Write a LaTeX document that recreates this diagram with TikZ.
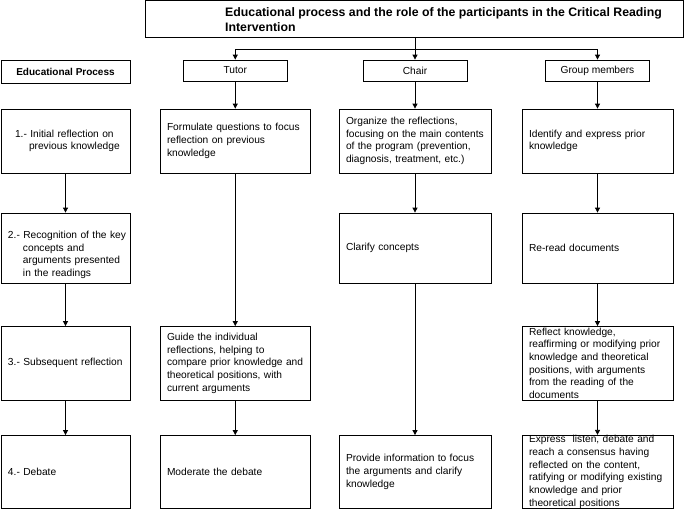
\documentclass[tikz,border=0pt]{standalone}
\usepackage{fontspec}
\setmainfont{Liberation Sans}
\usetikzlibrary{arrows.meta}
\begin{document}
\begin{tikzpicture}[x=1pt,y=-1pt,
  box/.style={draw, line width=0.8pt, inner xsep=7pt, inner ysep=0pt, align=left,
    font=\fontsize{10.2}{12.7}\selectfont, anchor=center},
  hdr/.style={draw, line width=0.8pt, inner sep=0pt, font=\fontsize{10.2}{12.7}\selectfont,
    minimum width=104pt, minimum height=21pt},
  arr/.style={line width=0.8pt, -{Triangle[length=5pt,width=5pt]}},
  c1/.style={minimum width=129pt, inner xsep=3pt, text width=123pt},
  c2/.style={minimum width=150.5pt, text width=136.5pt},
  c3/.style={minimum width=152pt, text width=138pt},
  c4/.style={minimum width=151pt, text width=137pt},
  r1/.style={minimum height=64pt},
  r2/.style={minimum height=70pt},
  r3/.style={minimum height=73.5pt},
  r4/.style={minimum height=72.5pt},
]
\useasboundingbox (0,0) rectangle (685,509);

% title
\node[draw, line width=0.8pt, minimum width=538pt, minimum height=36.5pt, inner sep=0pt] (title) at (414,18.75) {};
\node[anchor=west, inner sep=0pt, align=left, font=\fontsize{12.3}{14.8}\selectfont\bfseries] (titletext) at (225,20) {Educational process and the role of the participants in the Critical Reading\\Intervention};

% headers
\node[hdr, minimum width=129pt, minimum height=23pt, font=\fontsize{10}{12}\selectfont\bfseries] (edproc) at (65.5,71.5) {Educational Process};
\node[hdr] (tutor) at (235.25,70.5) {Tutor};
\node[hdr] (chair) at (415,70.5) {Chair};
\node[hdr] (group) at (597.5,70.5) {Group members};

% column 1
\node[box, c1, r1] (p1) at (65.5,141) {\hspace*{11pt}1.- Initial reflection on\\\hspace*{25pt}previous knowledge};
\node[box, c1, r2] (p2) at (65.5,248) {\rule{0pt}{21pt}\hspace*{4pt}2.- Recognition of the key\\\hspace*{19pt}concepts and\\\hspace*{19pt}arguments presented\\\hspace*{19pt}in the readings};
\node[box, c1, r3] (p3) at (65.5,363.25) {\hspace*{4pt}3.- Subsequent reflection};
\node[box, c1, r4] (p4) at (65.5,471.75) {\hspace*{4pt}4.- Debate};

% column 2
\node[box, c2, r1] (t1) at (235.25,141) {Formulate questions to focus\\reflection on previous\\knowledge};
\node[box, c2, r3] (t3) at (235.25,363.25) {Guide the individual\\reflections, helping to\\compare prior knowledge and\\theoretical positions, with\\current arguments};
\node[box, c2, r4] (t4) at (235.25,471.75) {Moderate the debate};

% column 3
\node[box, c3, r1] (h1) at (415,141) {Organize the reflections,\\focusing on the main contents\\of the program (prevention,\\diagnosis, treatment, etc.)};
\node[box, c3, r2] (h2) at (415,248) {Clarify concepts};
\node[box, c3, r4] (h4) at (415,471.75) {Provide information to focus\\the arguments and clarify\\knowledge};

% column 4
\node[box, c4, r1] (g1) at (597.5,141) {Identify and express prior\\knowledge};
\node[box, c4, r2] (g2) at (597.5,248) {Re-read documents};
\node[box, c4, r3] (g3) at (597.5,363.25) {Reflect knowledge,\\reaffirming or modifying prior\\knowledge and theoretical\\positions, with arguments\\from the reading of the\\documents};
\node[box, c4, r4] (g4) at (597.5,471.75) {Express\ \ listen, debate and\\reach a consensus having\\reflected on the content,\\ratifying or modifying existing\\knowledge and prior\\theoretical positions};

% connectors from title
\coordinate (junction) at (415,49);
\draw[arr] (title.south -| chair.north) -- (chair.north);
\draw[arr] (junction) -| (tutor.north);
\draw[arr] (junction) -| (group.north);

% column arrows
\draw[arr] (p1) -- (p2);
\draw[arr] (p2) -- (p3);
\draw[arr] (p3) -- (p4);
\draw[arr] (tutor) -- (t1);
\draw[arr] (t1) -- (t3);
\draw[arr] (t3) -- (t4);
\draw[arr] (chair) -- (h1);
\draw[arr] (h1) -- (h2);
\draw[arr] (h2) -- (h4);
\draw[arr] (group) -- (g1);
\draw[arr] (g1) -- (g2);
\draw[arr] (g2) -- (g3);
\draw[arr] (g3) -- (g4);
\end{tikzpicture}
\end{document}
